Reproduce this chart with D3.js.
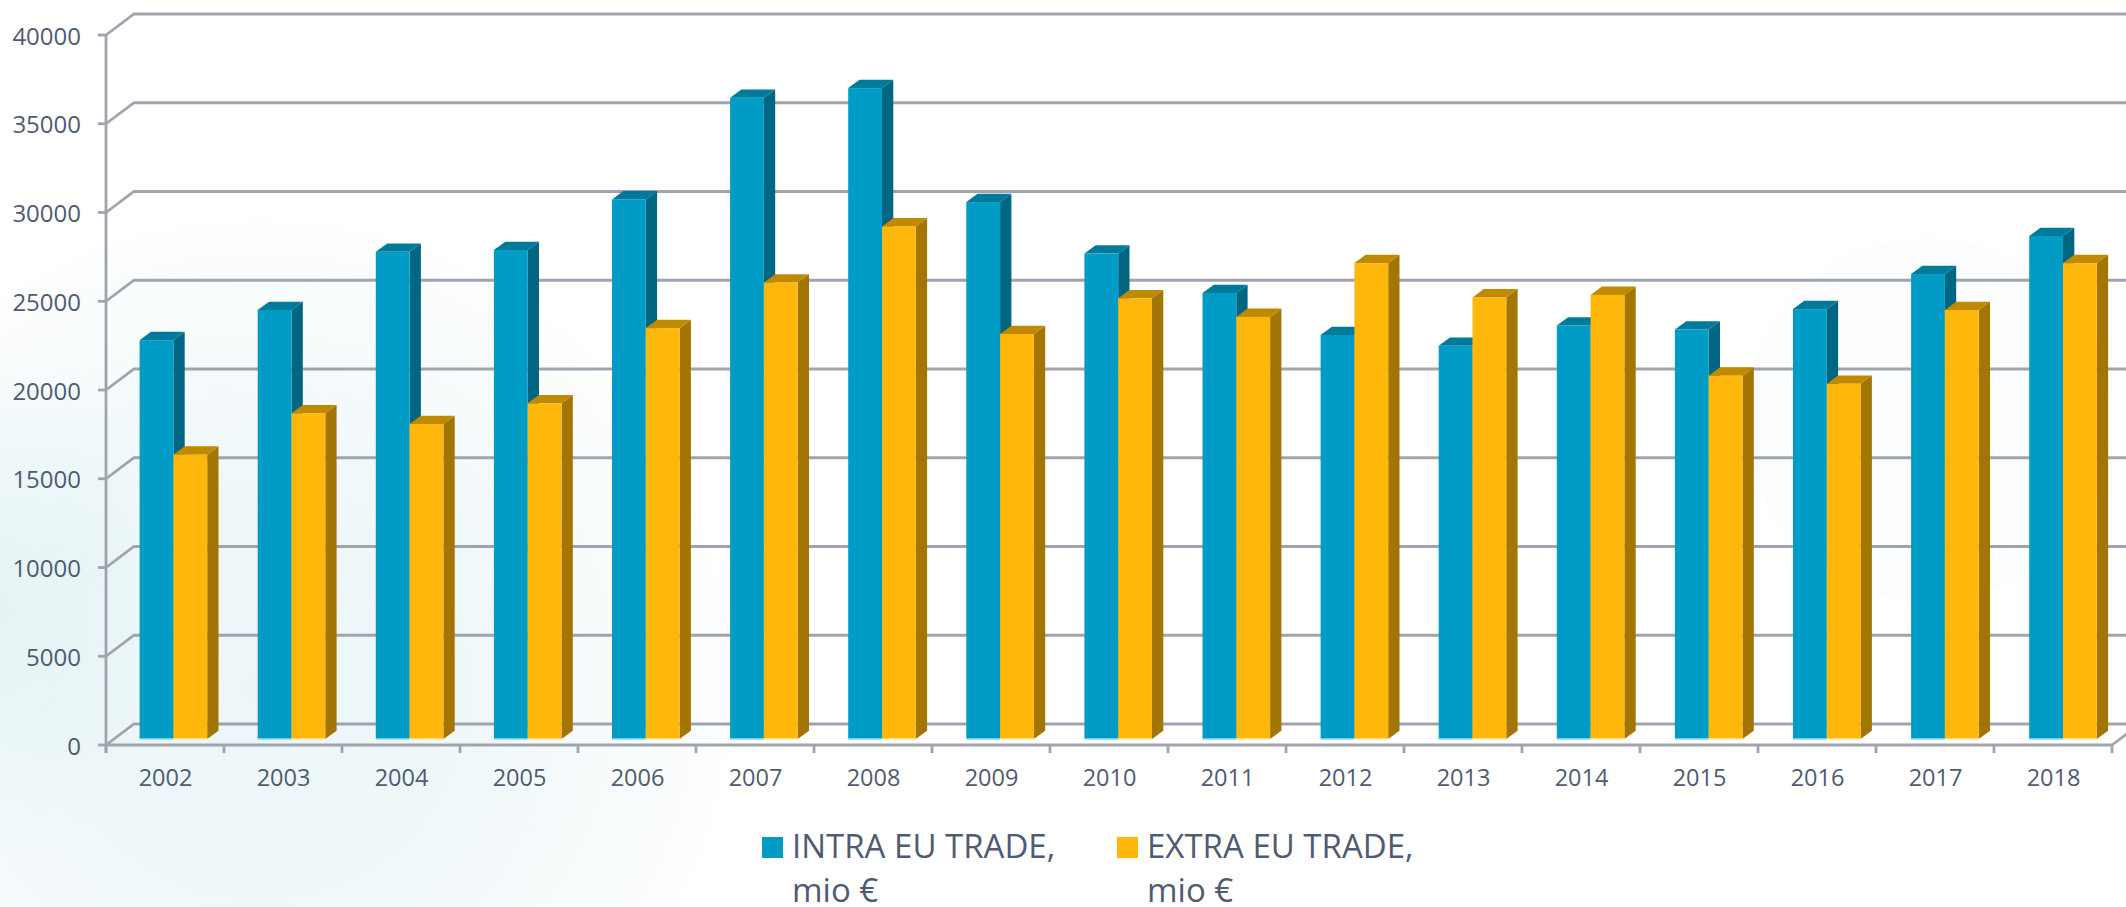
<!DOCTYPE html>
<html>
<head>
<meta charset="utf-8">
<script src="https://cdn.jsdelivr.net/npm/d3@7"></script>
<style>
html,body{margin:0;padding:0;background:#fff;overflow:hidden}
svg{display:block}
text{font-family:"Open Sans",sans-serif;fill:#4f5b72}
</style>
</head>
<body>
<svg id="chart" width="2126" height="907"></svg>
<script>
const years = ["2002","2003","2004","2005","2006","2007","2008","2009","2010","2011","2012","2013","2014","2015","2016","2017","2018"];
const intraEU = [22470,24170,27450,27550,30400,36130,36670,30250,27350,25130,22760,22150,23300,23070,24220,26200,28340];
const extraEU = [16020,18350,17750,18910,23150,25720,28880,22820,24830,23780,26810,24880,25020,20470,20010,24170,26810];
const yTicks = [0,5000,10000,15000,20000,25000,30000,35000,40000];
const seriesNames = ["INTRA EU TRADE,","EXTRA EU TRADE,"];
const unitLine = "mio €";

const W = 2126, H = 907;
const svg = d3.select("#chart");
const defs = svg.append("defs");

function glow(id, cx, cy, r, stops){
  const g = defs.append("radialGradient").attr("id",id).attr("gradientUnits","userSpaceOnUse")
    .attr("cx",cx).attr("cy",cy).attr("r",r);
  stops.forEach(s=>g.append("stop").attr("offset",s[0]).attr("stop-color",s[1]).attr("stop-opacity",s[2]));
}
glow("glowC",260,690,480,[[0,"#ecf6f8",1],[0.4,"#eff7f9",1],[0.7,"#f6fbfc",1],[0.9,"#fbfdfd",1],[1,"#ffffff",1]]);
glow("glowE",-10,610,270,[[0,"#e2f3f2",0.9],[0.55,"#e6f4f4",0.5],[1,"#f0f8f8",0]]);
glow("glowR",1927,420,185,[[0,"#fcfdfe",1],[0.97,"#fcfdfe",1],[1,"#fcfdfe",0]]);
svg.append("rect").attr("width",W).attr("height",H).attr("fill","#fff");
["glowC","glowE","glowR"].forEach(id=>svg.append("rect").attr("width",W).attr("height",H).attr("fill",`url(#${id})`));

const y = d3.scaleLinear().domain([0,40000]).range([745,35]);
const x = d3.scaleBand().domain(years).range([106,2112]);
const depthX = 28, depthY = 21;
const gridCol = "#a0a4ae";
const line = d3.line();

// back wall gridlines + floor/side diagonals
const grid = svg.append("g").attr("fill","none").attr("stroke",gridCol).attr("stroke-width",2.8);
grid.selectAll("path.g").data(yTicks).join("path").attr("class","g")
  .attr("d",t=>line([[x.range()[0],y(t)],[x.range()[0]+depthX,y(t)-depthY],[x.range()[1]+depthX,y(t)-depthY]]));
grid.append("path").attr("d",line([[x.range()[1],y(0)],[x.range()[1]+depthX,y(0)-depthY]]));

// bars
const bx = d3.scaleBand().domain([0,1]).range([0,67.6]);
const barShift = 33.6, barLift = 6, bd = 11.3, bdy = 8.3;
const bars = [
  {vals:intraEU, i:0, front:"#019cc6", side:"#006682", top:"#007a9a", base:"#8fdcf0"},
  {vals:extraEU, i:1, front:"#ffb70c", side:"#a37503", top:"#c08a00", base:"#ffe9a8"}
];
const gBars = svg.append("g");
years.forEach((yr,k)=>{
  const stepX = k*0.1;
  bars.forEach(b=>{
    const v = b.vals[k];
    const x0 = x(yr)+barShift+stepX+bx(b.i), x1 = x0+bx.bandwidth();
    const yT = y(v)-barLift, yB = y(0)-barLift;
    const g = gBars.append("g");
    g.append("path").attr("fill",b.side).attr("d",line([[x1,yT],[x1+bd,yT-bdy],[x1+bd,yB-bdy],[x1,yB]])+"Z");
    g.append("path").attr("fill",b.top).attr("d",line([[x0,yT],[x0+bd,yT-bdy],[x1+bd,yT-bdy],[x1,yT]])+"Z");
    g.append("rect").attr("x",x0).attr("y",yT).attr("width",x1-x0).attr("height",yB-yT).attr("fill",b.front);
    g.append("path").attr("stroke",b.base).attr("stroke-width",1.4).attr("fill","none").attr("d",line([[x0,yB],[x1,yB]]));
  });
});

// front axes
const axG = svg.append("g").attr("stroke",gridCol).attr("stroke-width",2.8).attr("fill","none");
axG.append("path").attr("d",line([[106,y(40000)],[106,y(0)+8]]));
axG.append("path").attr("d",line([[106,y(0)],[x.range()[1],y(0)]]));
axG.selectAll("path.ty").data(yTicks).join("path").attr("class","ty")
  .attr("d",t=>line([[98,y(t)],[106,y(t)]]));
const xEdges = years.map(d=>x(d)).concat([x.range()[1]]);
axG.selectAll("path.tx").data(xEdges).join("path").attr("class","tx")
  .attr("d",e=>line([[e,y(0)],[e,y(0)+8]]));

// tick labels
svg.append("g").selectAll("text").data(yTicks).join("text")
  .attr("x",81).attr("y",t=>y(t)+1).attr("dy","0.36em").attr("text-anchor","end")
  .attr("font-size",24).text(t=>t);
svg.append("g").selectAll("text").data(years).join("text")
  .attr("x",d=>x(d)+x.bandwidth()/2+0.5).attr("y",786).attr("text-anchor","middle")
  .attr("font-size",23.5).text(d=>d);

// legend
const legX = [762,1117], legCol = [bars[0].front, bars[1].front];
const leg = svg.append("g");
seriesNames.forEach((n,i)=>{
  leg.append("rect").attr("x",legX[i]).attr("y",837).attr("width",21).attr("height",21).attr("fill",legCol[i]);
  leg.append("text").attr("x",legX[i]+30).attr("y",858).attr("font-size",33).text(n);
  leg.append("text").attr("x",legX[i]+30).attr("y",902).attr("font-size",33).text(unitLine);
});
</script>
</body>
</html>
